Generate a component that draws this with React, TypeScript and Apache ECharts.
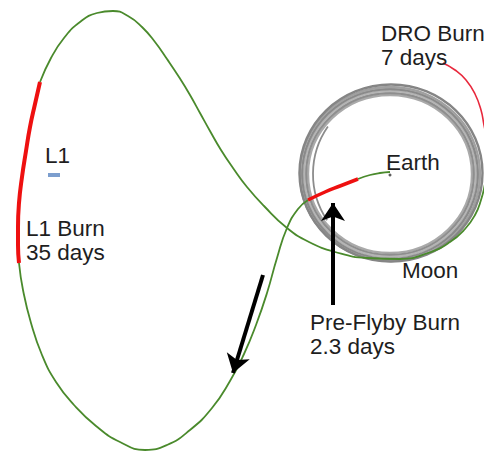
import React, { useEffect, useRef } from "react";
import * as echarts from "echarts";

// Trajectory segments (x right, y down)
const earthLeg = [[390,172],[380,173],[370,175],[358,179]];
const preFlybyBurn = [[358,179],[340,186],[325,192],[308,200]];
const outboundLeg = [[308,200],[298,209],[287,228],[277,258],[267,293],[256,325],[244,354],[230,381],[212,408],[190,430],[167,445],[145,450],[120,442],[96,426],[74,405],[56,382],[42,355],[31,323],[23,290],[19,263]];
const l1Burn = [[19,263],[18,245],[18,227],[19,203],[22,177],[26,151],[30,127],[35,104],[40,82]];
const returnLeg = [[40,82],[51,58],[64,38],[80,22],[97,13],[113,11],[128,16],[142,27],[155,42],[167,59],[179,77],[190,95],[200,113],[210,131],[221,150],[233,168],[247,187],[264,206],[287,228],[309,242],[335,252],[367,258],[400,259],[428,253],[450,242],[465,229],[475,215],[481,200],[485,184],[488,168]];
const droBurn = [[443,63],[455,70],[466,80],[475,94],[481,110],[484,125],[487,140]];

// Moon orbit strands: cx, cy, rx, ry
const moonOrbitRings = [
  [390,174,82,79],[390,174,84,81],[390,174,86,83],[390,174,88,85],[390,174,90,87],[391,173,91.5,88.5]
];
const ringColors = ["#aaaaaa","#8e8e8e","#b4b4b4","#8a8a8a","#a0a0a0","#858585"];
// Inner stray strand on the left of the orbit: cx, cy, r, start angle, end angle (radians)
const innerStrand = [[396,174,83,2.55,3.75]];

const earthPoint = [[390,175]];
const l1Point = [[54,175]];
const flybyArrow = [[333,305],[333,203]];
const directionArrow = [[263,275],[233,373]];

const labels = [
  { text: "L1", x: 45, y: 143 },
  { text: "L1 Burn\n35 days", x: 26, y: 216 },
  { text: "Earth", x: 386, y: 150 },
  { text: "Moon", x: 402, y: 258 },
  { text: "Pre-Flyby Burn\n2.3 days", x: 310, y: 310 },
  { text: "DRO Burn\n7 days", x: 381, y: 21 },
];

const GREEN = "#4a8a2c";
const RED = "#ee1010";

export default function App() {
  const ref = useRef<HTMLDivElement>(null);
  useEffect(() => {
    const chart = echarts.init(ref.current!, null, { renderer: "svg" });
    const lineSeries = (data: number[][], color: string, width: number, z: number) => ({
      type: "line",
      data,
      smooth: 0.5,
      symbol: "none",
      lineStyle: { color, width },
      z,
      silent: true,
    });
    chart.setOption({
      animation: false,
      backgroundColor: "#ffffff",
      grid: { left: 0, right: 0, top: 0, bottom: 0 },
      xAxis: { type: "value", min: 0, max: 484, show: false },
      yAxis: { type: "value", min: 0, max: 452, inverse: true, show: false },
      series: [
        {
          type: "custom",
          data: moonOrbitRings,
          z: 1,
          silent: true,
          renderItem: (params: any, api: any) => {
            const i = params.dataIndex;
            const c = api.coord([api.value(0), api.value(1)]);
            const rx = api.size([api.value(2), 0])[0];
            const ry = api.size([0, api.value(3)])[1];
            return {
              type: "ellipse",
              shape: { cx: c[0], cy: c[1], rx, ry },
              style: { fill: "none", stroke: ringColors[i], lineWidth: 2.4 },
            };
          },
        },
        {
          type: "custom",
          data: innerStrand,
          z: 1,
          silent: true,
          renderItem: (params: any, api: any) => {
            const c = api.coord([api.value(0), api.value(1)]);
            const r = api.size([api.value(2), 0])[0];
            return {
              type: "arc",
              shape: { cx: c[0], cy: c[1], r, startAngle: api.value(3), endAngle: api.value(4), clockwise: true },
              style: { fill: "none", stroke: "#8c8c8c", lineWidth: 1.8 },
            };
          },
        },
        lineSeries(earthLeg, GREEN, 1.8, 3),
        lineSeries(outboundLeg, GREEN, 1.8, 3),
        lineSeries(returnLeg, GREEN, 1.8, 3),
        lineSeries(preFlybyBurn, RED, 3.5, 4),
        lineSeries(l1Burn, RED, 4, 4),
        lineSeries(droBurn, "#e8283c", 1.6, 4),
        {
          type: "scatter",
          data: earthPoint,
          symbol: "circle",
          symbolSize: 3,
          itemStyle: { color: "#333" },
          z: 5,
          silent: true,
        },
        {
          type: "scatter",
          data: l1Point,
          symbol: "rect",
          symbolSize: [12, 4],
          itemStyle: { color: "#5b86c2" },
          z: 5,
          silent: true,
        },
        {
          type: "lines",
          coordinateSystem: "cartesian2d",
          data: [{ coords: flybyArrow }, { coords: directionArrow }],
          symbol: ["none", "arrow"],
          symbolSize: 18,
          lineStyle: { color: "#000", width: 4, opacity: 1 },
          z: 6,
          silent: true,
        },
      ],
      graphic: labels.map((l) => ({
        type: "text",
        x: l.x,
        y: l.y,
        z: 10,
        style: {
          text: l.text,
          font: '22.5px "Liberation Sans", Arial, sans-serif',
          fill: "#1e1e1e",
          lineHeight: 24,
          verticalAlign: "top",
        },
      })),
    });
    return () => chart.dispose();
  }, []);
  return <div ref={ref} style={{ position: "fixed", left: 0, top: 0, width: 484, height: 452 }} />;
}
